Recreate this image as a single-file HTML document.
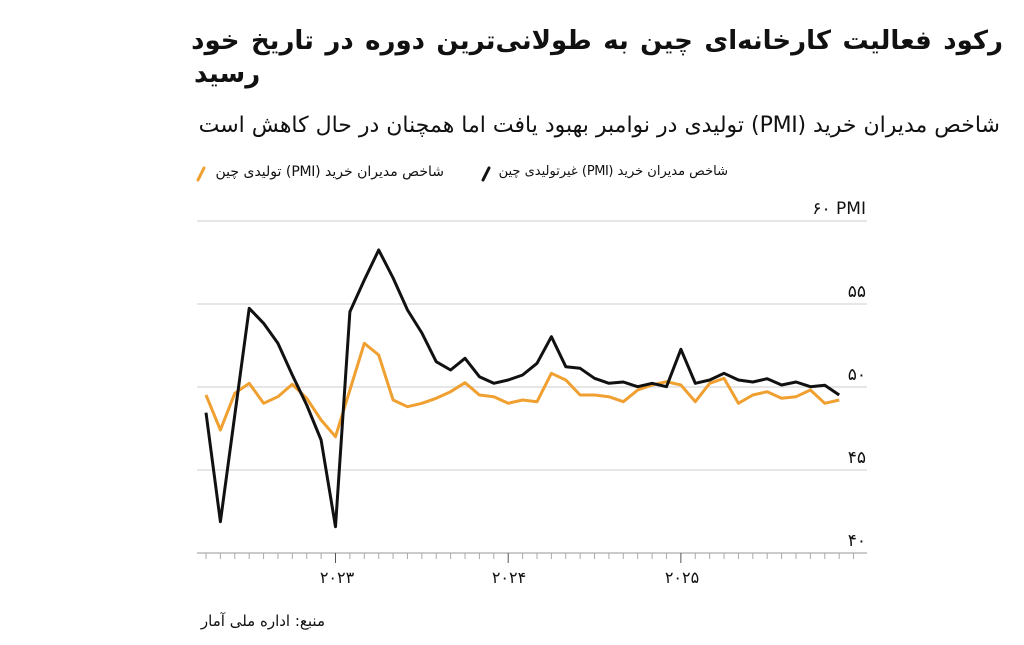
<!DOCTYPE html>
<html><head><meta charset="utf-8">
<style>
body{margin:0;background:#fff;width:1024px;height:645px;overflow:hidden;position:relative;font-family:"DejaVu Sans",sans-serif;color:#111}
.t{position:absolute;direction:rtl;text-align:right;white-space:nowrap}
</style></head><body>
<div class="t" style="right:21px;top:24px;font-size:26px;font-weight:bold;line-height:34px;word-spacing:2.4px">رکود فعالیت کارخانه‌ای چین به طولانی‌ترین دوره در تاریخ خود</div>
<div class="t" style="left:194px;top:57px;font-size:26px;font-weight:bold;line-height:34px">رسید</div>
<div class="t" style="right:24px;top:112px;font-size:22px;line-height:28px;letter-spacing:-0.3px">شاخص مدیران خرید (PMI) تولیدی در نوامبر بهبود یافت اما همچنان در حال کاهش است</div>
<div class="t" style="right:296px;top:162px;font-size:13px;line-height:20px;letter-spacing:-0.5px">شاخص مدیران خرید (PMI) غیرتولیدی چین</div>
<div class="t" style="right:580px;top:162px;font-size:14px;line-height:20px;letter-spacing:-0.3px">شاخص مدیران خرید (PMI) تولیدی چین</div>
<div class="t" style="right:699px;top:610px;font-size:15px;line-height:22px">منبع: اداره ملی آمار</div>
<svg width="1024" height="645" style="position:absolute;left:0;top:0">
<line x1="483" y1="180" x2="489" y2="168" stroke="#111" stroke-width="3" stroke-linecap="round"/>
<line x1="198" y1="180" x2="204" y2="168" stroke="#f0a030" stroke-width="3" stroke-linecap="round"/>
<g stroke="#ddd" stroke-width="1.5">
<line x1="197" y1="221" x2="867" y2="221"/><line x1="197" y1="304" x2="867" y2="304"/>
<line x1="197" y1="387" x2="867" y2="387"/><line x1="197" y1="470" x2="867" y2="470"/>
</g>
<line x1="197" y1="553" x2="867" y2="553" stroke="#bbb" stroke-width="1.5"/>
<g id="ticks" stroke="#999" stroke-width="1"></g>
<g font-family="DejaVu Sans" font-size="17" fill="#111" text-anchor="end">
<text x="866" y="214">۶۰ PMI</text><text x="866" y="297">۵۵</text><text x="866" y="380">۵۰</text><text x="866" y="463">۴۵</text><text x="866" y="546">۴۰</text>
</g>
<g font-family="DejaVu Sans" font-size="16" fill="#111" text-anchor="middle">
<text x="337" y="583">۲۰۲۳</text><text x="509" y="583">۲۰۲۴</text><text x="682" y="583">۲۰۲۵</text>
</g>
<polyline id="o" fill="none" stroke="#f0a030" stroke-width="3" stroke-linejoin="round"/>
<polyline id="b" fill="none" stroke="#111" stroke-width="3" stroke-linejoin="round"/>
</svg>
<script>
var O=[395,430,393.3,383.3,403.3,396.7,384.3,398.3,420,436.7,390,343.3,355,400,406.7,403.3,398.3,391.7,382.7,395,396.7,403.3,400,401.7,373.3,380,395,395,396.7,401.7,390,385,381.7,385,401.7,383.3,378.3,403.3,395,391.7,398.3,396.7,390,403.3,400];
var B=[412.7,521.7,415,308.3,323.3,343.3,375,405,440,526.7,311.7,280,250,278,310,333,361.7,370,358.3,376.7,383.3,380,375,363.3,336.7,366.7,368.3,378.3,383.3,382,386.7,383.3,386.7,349.3,383.3,380,373.3,380,382,378.7,385,382,386.7,385.3,395];
function pts(a){return a.map(function(y,i){return (206+i*14.39).toFixed(1)+","+y}).join(" ")}
document.getElementById("o").setAttribute("points",pts(O));
document.getElementById("b").setAttribute("points",pts(B));
var g=document.getElementById("ticks"),s="";
for(var i=0;i<46;i++){var x=206+i*14.39;var yr=(i==9||i==21||i==33);s+='<line x1="'+x+'" y1="553" x2="'+x+'" y2="'+(yr?563:559)+'" stroke="'+(yr?"#555":"#aaa")+'"/>';}
g.innerHTML=s;
</script>
</body></html>
